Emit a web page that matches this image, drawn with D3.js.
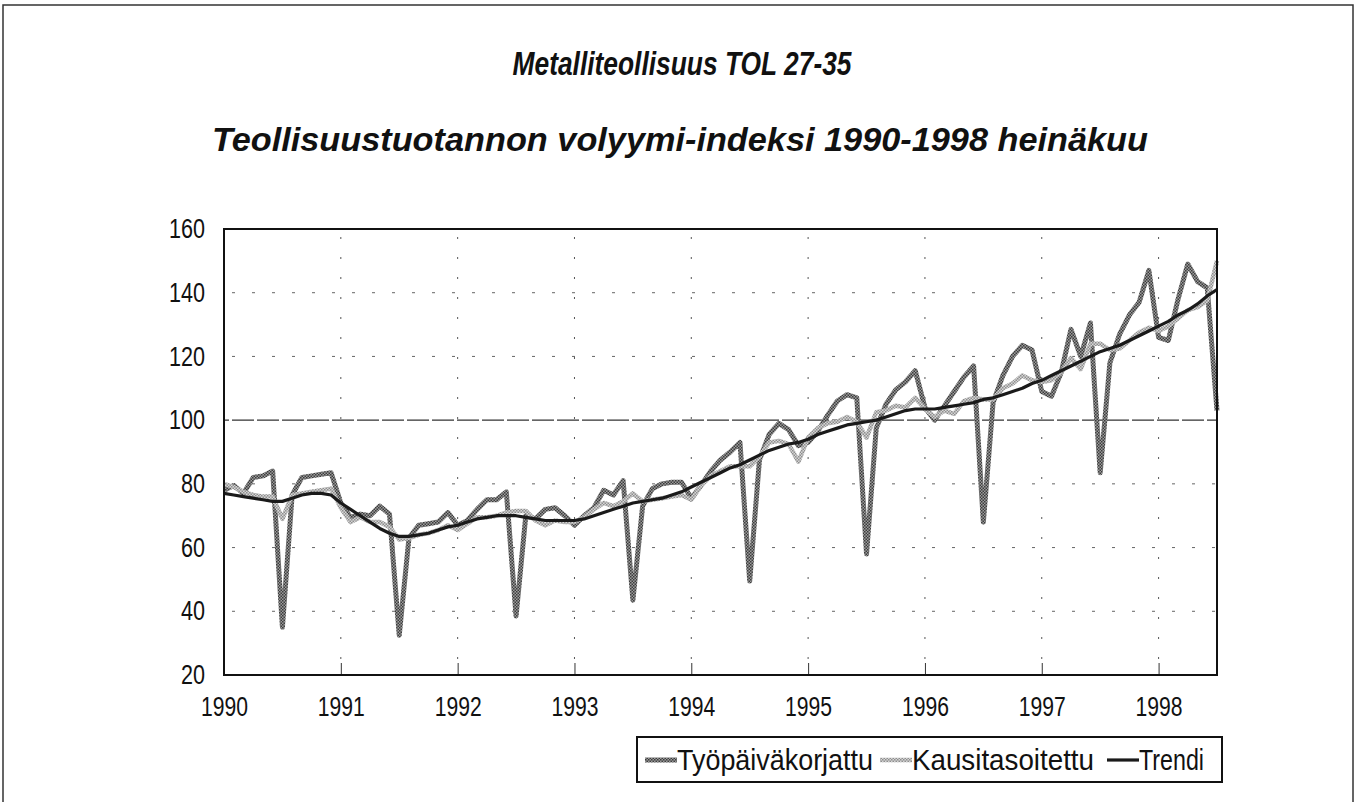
<!DOCTYPE html>
<html>
<head>
<meta charset="utf-8">
<script src="https://cdn.jsdelivr.net/npm/d3@7"></script>
<style>
  html, body { margin: 0; padding: 0; background: #fff; }
  #chart { width: 1359px; height: 802px; }
  text { font-family: "Liberation Sans Narrow", "Arial Narrow", "Liberation Sans", sans-serif; }
</style>
</head>
<body>
<div id="chart"></div>
<script>
// Kuukausisarjat tammikuu 1990 - heinäkuu 1998 (103 kk)
const startYear = 1990;
const yearTicks = [1990, 1991, 1992, 1993, 1994, 1995, 1996, 1997, 1998];
const valueTicks = [20, 40, 60, 80, 100, 120, 140, 160];

const tyopaivakorjattu = [
    78, 79.5, 77, 82, 82.5, 84, 35, 76.5, 82, 82.5, 83, 83.5,
    74, 69.5, 70.5, 70, 73, 70.5, 32.5, 63, 67, 67.5, 68, 71,
    67, 68.5, 72, 75, 75, 77.5, 38.5, 70, 69, 72, 72.5, 70,
    67, 70, 72.5, 78, 76.5, 81, 43.5, 73, 78.5, 80, 80.5, 80.5,
    75.5, 79.5, 84, 87.5, 90, 93, 49.5, 87.5, 95.5, 99, 97, 92,
    93, 96.5, 101.5, 106, 108, 107, 58, 97.5, 105, 109.5, 112, 115.5,
    104, 100, 104.5, 109, 113.5, 117, 68, 105.5, 114, 120, 123.5, 122,
    109, 107.5, 115, 128.5, 120, 130.5, 83.5, 118, 127, 133, 137, 147,
    126, 125, 138, 149, 143.5, 141.5, 103
];

const kausitasoitettu = [
    80, 79, 77.5, 76.5, 76, 76, 69, 76.5, 77, 77.5, 78, 78.5,
    72.5, 68, 69.5, 68, 68, 66.5, 62.5, 63, 64, 64.5, 65.5, 67,
    65.5, 67.5, 69.5, 69.5, 70, 71, 71.5, 71.5, 68.5, 67, 68.5, 68,
    68, 69.5, 72, 74, 73, 74.5, 77, 74.5, 75, 75.5, 76, 76.5,
    75, 79.5, 82.5, 84, 85.5, 85.5, 85.5, 88.5, 93, 93.5, 92.5, 87,
    94.5, 97.5, 99, 99.5, 101, 99.5, 94.5, 102.5, 103, 104.5, 104, 107,
    103.5, 101, 103, 102, 106, 107, 106.5, 106.5, 110, 111.5, 114, 112.5,
    112, 112.5, 115, 119.5, 116, 124, 124, 122, 122.5, 125, 127.5, 129,
    128, 129.5, 132, 134.5, 135.5, 137.5, 150
];

const trendi = [
    77, 76.5, 76, 75.5, 75, 74.5, 74.5, 75.5, 76.5, 77, 77, 76.5,
    74, 72, 70, 68, 66, 64.5, 63.5, 63.5, 64, 64.5, 65.5, 66.5,
    67, 68, 69, 69.5, 70, 70, 70, 69.5, 69, 68.5, 68.5, 68.5,
    68.5, 69, 70, 71, 72, 73, 74, 74.5, 75, 75.5, 76.5, 77.5,
    79, 80.5, 82, 83.5, 85, 86, 87.5, 89, 90.5, 91.5, 92.5, 93,
    94, 95.5, 96.5, 97.5, 98.5, 99, 99.5, 100, 101, 102, 103, 103.5,
    103.5, 103.5, 104, 104.5, 105, 105.5, 106.5, 107, 108, 109, 110, 111.5,
    112.5, 114, 115.5, 117, 118.5, 120, 121.5, 122.5, 123.5, 125, 126.5, 128,
    129.5, 131, 133, 134.5, 136.5, 139, 141
];

const seriesNames = ["Työpäiväkorjattu", "Kausitasoitettu", "Trendi"];

const W = 1359, H = 802;
const plot = { left: 224, top: 229, right: 1217, bottom: 675 };

const svg = d3.select("#chart").append("svg")
    .attr("width", W)
    .attr("height", H);

// halftone-like stroke textures (scanned look)
const defs = svg.append("defs");
function halftone(id, base, dot) {
    const p = defs.append("pattern")
        .attr("id", id)
        .attr("patternUnits", "userSpaceOnUse")
        .attr("width", 3).attr("height", 3);
    p.append("rect").attr("width", 3).attr("height", 3).attr("fill", base);
    p.append("rect").attr("width", 1.5).attr("height", 1.5).attr("fill", dot);
    p.append("rect").attr("x", 1.5).attr("y", 1.5).attr("width", 1.5).attr("height", 1.5).attr("fill", dot);
}
halftone("texDark", "#9c9c9c", "#3c3c3c");
halftone("texLight", "#d6d6d6", "#8e8e8e");

// outer frame
svg.append("rect")
    .attr("x", 3).attr("y", 5)
    .attr("width", 1350).attr("height", 820)
    .attr("fill", "none")
    .attr("stroke", "#333")
    .attr("stroke-width", 1.5);

// titles
svg.append("text")
    .attr("x", 682).attr("y", 75)
    .attr("text-anchor", "middle")
    .attr("font-size", 33)
    .attr("font-weight", "bold")
    .attr("font-style", "italic")
    .attr("textLength", 339)
    .attr("lengthAdjust", "spacingAndGlyphs")
    .attr("fill", "#111")
    .text("Metalliteollisuus TOL 27-35");

svg.append("text")
    .attr("x", 680).attr("y", 151)
    .attr("text-anchor", "middle")
    .attr("font-size", 34)
    .attr("font-weight", "bold")
    .attr("font-style", "italic")
    .attr("textLength", 936)
    .attr("lengthAdjust", "spacingAndGlyphs")
    .attr("fill", "#111")
    .text("Teollisuustuotannon volyymi-indeksi 1990-1998 heinäkuu");

// scales
const x = d3.scaleLinear()
    .domain([startYear, startYear + (trendi.length - 1) / 12])
    .range([plot.left, plot.right]);

const y = d3.scaleLinear()
    .domain([20, 160])
    .range([plot.bottom, plot.top]);

const g = svg.append("g");

// grid
g.selectAll(".hgrid")
    .data(valueTicks.filter(v => v > 20 && v < 160))
    .enter()
    .append("line")
    .attr("class", "hgrid")
    .attr("x1", plot.left).attr("x2", plot.right)
    .attr("y1", d => y(d)).attr("y2", d => y(d))
    .attr("stroke", d => d === 100 ? "#333" : "#666")
    .attr("stroke-width", d => d === 100 ? 1.3 : 1)
    .attr("stroke-dasharray", d => d === 100 ? "22,3" : "3,17")
    .attr("stroke-dashoffset", -8);

g.selectAll(".vgrid")
    .data(yearTicks.slice(1))
    .enter()
    .append("line")
    .attr("class", "vgrid")
    .attr("x1", d => x(d)).attr("x2", d => x(d))
    .attr("y1", plot.top).attr("y2", plot.bottom)
    .attr("stroke", "#555")
    .attr("stroke-width", 1)
    .attr("stroke-dasharray", "2,18")
    .attr("stroke-dashoffset", -8);

// axes
const xAxis = d3.axisBottom(x)
    .tickValues(yearTicks)
    .tickFormat(d3.format("d"))
    .tickSizeInner(-12)
    .tickSizeOuter(0)
    .tickPadding(22);

const xg = svg.append("g")
    .attr("transform", `translate(0,${plot.bottom})`)
    .call(xAxis);
xg.select(".domain").remove();
xg.selectAll(".tick line").attr("stroke", "#333");
xg.selectAll(".tick text")
    .attr("font-size", 27)
    .attr("fill", "#111")
    .attr("textLength", 47)
    .attr("lengthAdjust", "spacingAndGlyphs");

const yAxis = d3.axisLeft(y)
    .tickValues(valueTicks)
    .tickSize(0)
    .tickPadding(19);

const yg = svg.append("g")
    .attr("transform", `translate(${plot.left},0)`)
    .call(yAxis);
yg.select(".domain").remove();
yg.selectAll(".tick text")
    .attr("font-size", 27)
    .attr("fill", "#111")
    .attr("textLength", d => String(d).length * 12)
    .attr("lengthAdjust", "spacingAndGlyphs");

// lines
const line = d3.line()
    .x((d, i) => x(startYear + i / 12))
    .y(d => y(d));

const styles = [
    { data: tyopaivakorjattu, stroke: "url(#texDark)", width: 5 },
    { data: kausitasoitettu, stroke: "url(#texLight)", width: 4.5 },
    { data: trendi, stroke: "#1a1a1a", width: 3.2 }
];

g.selectAll(".series")
    .data(styles)
    .enter()
    .append("path")
    .attr("class", "series")
    .attr("fill", "none")
    .attr("stroke", d => d.stroke)
    .attr("stroke-width", d => d.width)
    .attr("stroke-linejoin", "round")
    .attr("d", d => line(d.data));

// plot frame
svg.append("rect")
    .attr("x", plot.left).attr("y", plot.top)
    .attr("width", plot.right - plot.left)
    .attr("height", plot.bottom - plot.top)
    .attr("fill", "none")
    .attr("stroke", "#111")
    .attr("stroke-width", 2);

// legend
const legend = svg.append("g");
legend.append("rect")
    .attr("x", 637).attr("y", 737)
    .attr("width", 585).attr("height", 45)
    .attr("fill", "#fff")
    .attr("stroke", "#111")
    .attr("stroke-width", 2);

const legendX = [645, 880, 1107];
const legendTextW = [196, 182, 65];
seriesNames.forEach((name, i) => {
    legend.append("line")
        .attr("x1", legendX[i]).attr("x2", legendX[i] + 32)
        .attr("y1", 760).attr("y2", 760)
        .attr("stroke", styles[i].stroke)
        .attr("stroke-width", styles[i].width);
    legend.append("text")
        .attr("x", legendX[i] + 32)
        .attr("y", 770)
        .attr("font-size", 29)
        .attr("fill", "#111")
        .attr("textLength", legendTextW[i])
        .attr("lengthAdjust", "spacingAndGlyphs")
        .text(name);
});
</script>
</body>
</html>
